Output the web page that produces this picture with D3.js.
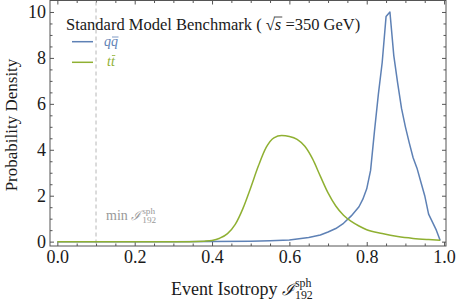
<!DOCTYPE html>
<html>
<head>
<meta charset="utf-8">
<script src="https://cdn.jsdelivr.net/npm/d3@7"></script>
<style>
  body { margin: 0; background: #fff; }
  svg { display: block; font-family: "Liberation Serif", "Times New Roman", serif; }
</style>
</head>
<body>
<svg id="chart" width="457" height="302"></svg>
<script>
// qq-bar (blue) histogram
var qqX = [0, 0.30, 0.40, 0.50, 0.55, 0.60, 0.65, 0.68, 0.70, 0.72, 0.74, 0.76, 0.78, 0.79, 0.80,
  0.81, 0.82, 0.83, 0.84, 0.85, 0.86, 0.87, 0.88, 0.89, 0.90, 0.91, 0.92, 0.93, 0.94, 0.95,
  0.96, 0.97, 0.98, 0.99];
var qqY = [0, 0, 0.003, 0.015, 0.035, 0.07, 0.18, 0.29, 0.42, 0.57, 0.80, 1.12, 1.52, 1.85, 2.30,
  3.10, 4.80, 6.40, 7.80, 9.80, 10.0, 8.10, 6.90, 5.80, 5.00, 4.30, 3.65, 3.20, 2.60, 2.00,
  1.20, 0.85, 0.50, 0.05];

// tt-bar (green)
var ttX = [0, 0.34, 0.38, 0.40, 0.42, 0.44, 0.46, 0.48, 0.50, 0.52, 0.54, 0.56, 0.58, 0.60, 0.62,
  0.64, 0.66, 0.68, 0.70, 0.72, 0.74, 0.76, 0.78, 0.80, 0.84, 0.88, 0.92, 0.96, 0.99];
var ttY = [0, 0, 0.02, 0.05, 0.15, 0.35, 0.75, 1.45, 2.35, 3.30, 4.10, 4.52, 4.62, 4.58, 4.45,
  4.15, 3.60, 2.85, 2.12, 1.55, 1.15, 0.88, 0.68, 0.52, 0.35, 0.22, 0.14, 0.09, 0.06];

var xTicks = [0, 0.2, 0.4, 0.6, 0.8, 1.0];
var xTickLabels = ["0.0", "0.2", "0.4", "0.6", "0.8", "1.0"];
var yTicks = [0, 2, 4, 6, 8, 10];
var minCut = 0.1;

var blue = "#5e81b5", green = "#8fb032";

function drawChart() {
  var svg = d3.select("#chart");
  var left = 50, right = 446, top = 0.5, bottom = 246;

  var xScale = d3.scaleLinear().domain([-0.019, 1.005]).range([left, right]);
  var yScale = d3.scaleLinear().domain([-0.19, 10.5]).range([bottom, top]);

  var xMinor = d3.range(0, 1.001, 0.05).filter(function(v) { return Math.abs(v * 5 - Math.round(v * 5)) > 1e-6; });
  var yMinor = d3.range(0, 10.5, 0.5).filter(function(v) { return v % 2 != 0; });

  // frame with inward ticks on all four sides
  function tickAxis(axis, ticks, size, labels) {
    return axis.tickValues(ticks).tickSize(-size).tickPadding(4)
      .tickFormat(labels ? function(d, i) { return labels[i]; } : "");
  }
  var axes = [
    [d3.axisBottom(xScale), "translate(0," + bottom + ")", xTicks, 4, xTickLabels],
    [d3.axisBottom(xScale), "translate(0," + bottom + ")", xMinor, 2.5, null],
    [d3.axisTop(xScale), "translate(0," + top + ")", xTicks, 4, null],
    [d3.axisTop(xScale), "translate(0," + top + ")", xMinor, 2.5, null],
    [d3.axisLeft(yScale), "translate(" + left + ",0)", yTicks, 4, yTicks.map(String)],
    [d3.axisLeft(yScale), "translate(" + left + ",0)", yMinor, 2.5, null],
    [d3.axisRight(yScale), "translate(" + right + ",0)", yTicks, 4, null],
    [d3.axisRight(yScale), "translate(" + right + ",0)", yMinor, 2.5, null]
  ];
  axes.forEach(function(a) {
    var g = svg.append("g").attr("transform", a[1]).call(tickAxis(a[0], a[2], a[3], a[4]));
    g.select(".domain").remove();
    g.attr("font-family", "'Liberation Serif', serif").attr("font-size", 18);
    g.selectAll("line").attr("stroke", "#555");
    g.selectAll("text").attr("fill", "#1a1a1a");
  });

  svg.append("rect")
    .attr("x", left).attr("y", top)
    .attr("width", right - left).attr("height", bottom - top)
    .attr("fill", "none").attr("stroke", "#555").attr("stroke-width", 1);

  // cut line
  svg.append("line")
    .attr("x1", xScale(minCut)).attr("x2", xScale(minCut))
    .attr("y1", top + 1).attr("y2", bottom - 1)
    .attr("stroke", "#c8c8c8").attr("stroke-width", 1.3)
    .attr("stroke-dasharray", "4,3");

  // curves
  var blueLine = d3.line()
    .x(function(d) { return xScale(d[0]); })
    .y(function(d) { return yScale(d[1]); });
  var greenLine = d3.line()
    .x(function(d) { return xScale(d[0]); })
    .y(function(d) { return yScale(d[1]); })
    .curve(d3.curveMonotoneX);

  svg.append("path").datum(d3.zip(qqX, qqY))
    .attr("d", blueLine).attr("fill", "none")
    .attr("stroke", blue).attr("stroke-width", 1.5).attr("stroke-linejoin", "round");
  svg.append("path").datum(d3.zip(ttX, ttY))
    .attr("d", greenLine).attr("fill", "none")
    .attr("stroke", green).attr("stroke-width", 1.5).attr("stroke-linejoin", "round");

  // labels
  svg.append("text")
    .attr("transform", "translate(17,125) rotate(-90)")
    .attr("text-anchor", "middle")
    .style("font-size", "17px").attr("fill", "#1a1a1a")
    .text("Probability Density");

  isoLabel(svg, 171, 295, 18, "#1a1a1a", "Event Isotropy ");
  isoLabel(svg, 106, 220, 14, "#999", "min ");

  // legend title
  var title = svg.append("text").attr("x", 66).attr("y", 30)
    .style("font-size", "16.5px").attr("fill", "#1a1a1a");
  var pre = "Standard Model Benchmark ( √";
  title.append("tspan").text(pre);
  title.append("tspan").style("font-style", "italic").text("s");
  title.append("tspan").text(" =350 GeV)");
  var sBox = title.node().getExtentOfChar(pre.length);
  var rootBox = title.node().getExtentOfChar(pre.length - 1);
  svg.append("line")
    .attr("x1", rootBox.x + rootBox.width - 1).attr("x2", sBox.x + sBox.width + 1)
    .attr("y1", rootBox.y + 2).attr("y2", rootBox.y + 2)
    .attr("stroke", "#1a1a1a").attr("stroke-width", 0.8);

  // legend entries
  var entries = [["q", blue, 41.7, 46, 104], ["t", green, 62.3, 66, 107]];
  entries.forEach(function(e) {
    svg.append("line").attr("x1", 72).attr("x2", 93)
      .attr("y1", e[2]).attr("y2", e[2])
      .attr("stroke", e[1]).attr("stroke-width", 1.5);
    var t = svg.append("text").attr("x", e[4]).attr("y", e[3])
      .style("font-size", "14px").style("font-style", "italic")
      .attr("fill", e[1]).text(e[0] + e[0]);
    var b = t.node().getExtentOfChar(1);
    var by = e[0] == "q" ? b.y + 3 : b.y + 1.5;
    svg.append("line")
      .attr("x1", b.x + 1).attr("x2", b.x + b.width + 0.5)
      .attr("y1", by).attr("y2", by)
      .attr("stroke", e[1]).attr("stroke-width", 0.8);
  });
}

// text followed by script I with stacked sub/superscript
function isoLabel(svg, x, y, size, color, prefix) {
  var t = svg.append("text").attr("x", x).attr("y", y)
    .style("font-size", size + "px").attr("fill", color);
  t.append("tspan").text(prefix);
  t.append("tspan").style("font-family", "DejaVu Serif, serif").style("font-style", "italic")
    .style("font-size", (size * 0.92) + "px").text("ℐ");
  var w = t.node().getComputedTextLength();
  var small = size * 0.66;
  t.append("tspan").attr("x", x + w + 1).attr("y", y - size * 0.44)
    .style("font-size", small + "px").text("sph");
  t.append("tspan").attr("x", x + w + 1).attr("y", y + size * 0.24)
    .style("font-size", small + "px").text("192");
}

drawChart();
</script>
</body>
</html>
